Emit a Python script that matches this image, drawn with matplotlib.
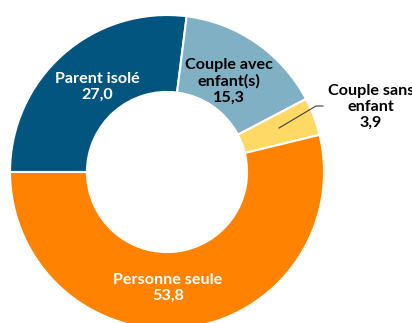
import matplotlib
matplotlib.use("Agg")
import matplotlib.pyplot as plt

categories = ["Parent isolé", "Couple avec\nenfant(s)", "Couple sans\nenfant", "Personne seule"]
values = [27.0, 15.3, 3.9, 53.8]
colors = ["#02557F", "#7FB0C3", "#FFD966", "#FF8200"]
text_colors = ["white", "black", "black", "white"]

W, H = 412, 323
fig = plt.figure(figsize=(W / 100, H / 100), dpi=100)
ax = fig.add_axes([0, 0, 1, 1])

cx, cy, r = 167, H - 172, 157
ax.pie(values, colors=colors, startangle=180, counterclock=False,
       center=(cx, cy), radius=r, frame=True,
       wedgeprops=dict(width=r * 0.49, edgecolor="white", linewidth=1.5))
ax.set_xlim(0, W)
ax.set_ylim(0, H)
ax.set_aspect("equal")
ax.axis("off")

def fmt(v):
    return f"{v:.1f}".replace(".", ",")

# label positions in pixel space (x, y from top)
label_pos = [(97, 87), (229, 81), (371, 107), (168, 288)]
for cat, v, col, (px, py) in zip(categories, values, text_colors, label_pos):
    ax.text(px, H - py, f"{cat}\n{fmt(v)}", ha="center", va="center",
            color=col, fontsize=11.6, fontweight="bold", family="Lato",
            linespacing=1.2)

# leader line for the small slice
ax.plot([279, 316, 323], [H - 128, H - 106, H - 106], color="#404040", lw=0.8)

fig.savefig("out.png", dpi=100)
